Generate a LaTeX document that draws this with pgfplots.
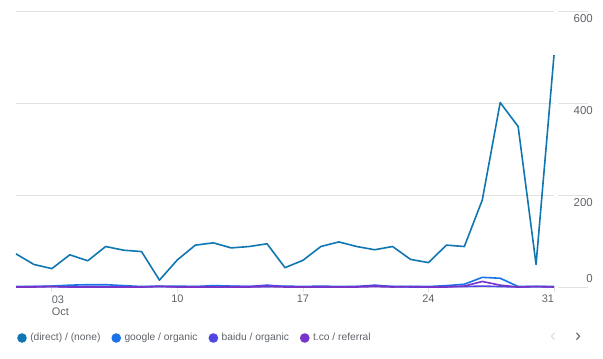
\documentclass[border=0pt]{standalone}
\usepackage{pgfplots}
\pgfplotsset{compat=1.18}
\usepackage{fontspec}
\setmainfont{Liberation Sans}
\definecolor{cdirect}{RGB}{16,118,178}
\definecolor{cgoogle}{RGB}{26,115,232}
\definecolor{cbaidu}{RGB}{80,70,228}
\definecolor{ctco}{RGB}{118,52,200}
\definecolor{gridc}{RGB}{226,226,226}
\definecolor{tickc}{RGB}{95,99,104}
\definecolor{arrowl}{RGB}{218,220,224}
\begin{document}
\begin{tikzpicture}
\useasboundingbox (0bp,0bp) rectangle (603bp,359bp);
\begin{axis}[
  at={(16bp,72bp)}, anchor=south west,
  scale only axis, width=538bp, height=276bp,
  xmin=1, xmax=31, ymin=0, ymax=600, clip=false,
  /pgf/number format/assume math mode=true,
  axis line style={draw=none},
  xtick={3,10,17,24,31},
  xticklabels={\makebox[0pt][l]{\begin{tabular}[t]{@{}l@{}}03\\Oct\end{tabular}},10,17,24,\makebox[0pt][r]{31}},
  xtick pos=bottom, tick align=outside, major tick length=5bp,
  xtick style={draw=gridc, line width=0.8bp},
  xticklabel style={font=\fontsize{11}{12}\selectfont, text=tickc, inner sep=0pt, anchor=north, yshift=-3bp},
  ytick={200,400,600}, ytick pos=right,
  ytick style={draw=none},
  yticklabel style={font=\fontsize{11.5}{12}\selectfont, text=tickc, inner sep=0pt, anchor=north east, xshift=34bp, yshift=-3bp},
  extra y ticks={0},
  extra y tick style={yticklabel style={anchor=south east, yshift=7bp}},
  ymajorgrids, grid style={draw=gridc, line width=0.8bp},
  legend columns=-1,
  legend style={at={(axis description cs:0,0)}, anchor=west, xshift=1bp, yshift=-51bp,
    draw=none, fill=none, inner sep=0pt, font=\fontsize{10.3}{12}\selectfont, text=tickc,
    nodes={inner sep=0pt},
    /tikz/every odd column/.append style={column sep=3.5bp},
    /tikz/every even column/.append style={column sep=11bp}},
  legend image code/.code={\fill (0bp,0bp) circle (4bp);},
  every axis plot/.append style={line width=1.6bp, line join=round},
]
\addplot[color=cdirect, mark=none] coordinates {
(1,72)(2,49)(3,40)(4,70)(5,57)(6,88)(7,80)(8,77)(9,15)(10,59)(11,91)(12,96)(13,85)(14,88)(15,94)(16,42)(17,58)(18,88)(19,98)(20,88)(21,81)(22,88)(23,60)(24,53)(25,91)(26,88)(27,189)(28,401)(29,349)(30,49)(31,504)};
\addlegendentry{(direct) / (none)}
\addplot[color=cgoogle, mark=none] coordinates {
(1,1)(2,1)(3,2)(4,4)(5,5)(6,5)(7,3)(8,1)(9,1)(10,2)(11,1)(12,3)(13,2)(14,1)(15,1)(16,2)(17,1)(18,2)(19,1)(20,1)(21,2)(22,1)(23,1)(24,1)(25,3)(26,6)(27,21)(28,19)(29,1)(30,1)(31,1)};
\addlegendentry{google / organic}
\addplot[color=cbaidu, mark=none] coordinates {
(1,0)(2,1)(3,1)(4,0)(5,1)(6,0)(7,0)(8,0)(9,2)(10,0)(11,1)(12,0)(13,1)(14,1)(15,4)(16,1)(17,0)(18,1)(19,0)(20,1)(21,4)(22,1)(23,0)(24,0)(25,1)(26,1)(27,2)(28,1)(29,0)(30,1)(31,0)};
\addlegendentry{baidu / organic}
\addplot[color=ctco, mark=none] coordinates {
(1,0)(2,0)(3,1)(4,0)(5,0)(6,0)(7,0)(8,0)(9,1)(10,0)(11,0)(12,0)(13,0)(14,0)(15,1)(16,0)(17,0)(18,0)(19,0)(20,0)(21,1)(22,0)(23,1)(24,0)(25,0)(26,2)(27,12)(28,4)(29,0)(30,1)(31,0)};
\addlegendentry{t.co / referral}
\draw[gridc, line width=0.8bp] ([xshift=4bp]axis cs:31,0) -- ([xshift=34bp]axis cs:31,0);
\draw[gridc, line width=0.8bp] ([xshift=4bp]axis cs:31,200) -- ([xshift=34bp]axis cs:31,200);
\draw[gridc, line width=0.8bp] ([xshift=4bp]axis cs:31,400) -- ([xshift=34bp]axis cs:31,400);
\draw[gridc, line width=0.8bp] ([xshift=4bp]axis cs:31,600) -- ([xshift=34bp]axis cs:31,600);
\end{axis}
\node[text=arrowl, font=\fontsize{18}{18}\selectfont] at (553bp,22bp) {‹};
\node[text=tickc, font=\fontsize{18}{18}\selectfont] at (578bp,22bp) {›};
\end{tikzpicture}
\end{document}
